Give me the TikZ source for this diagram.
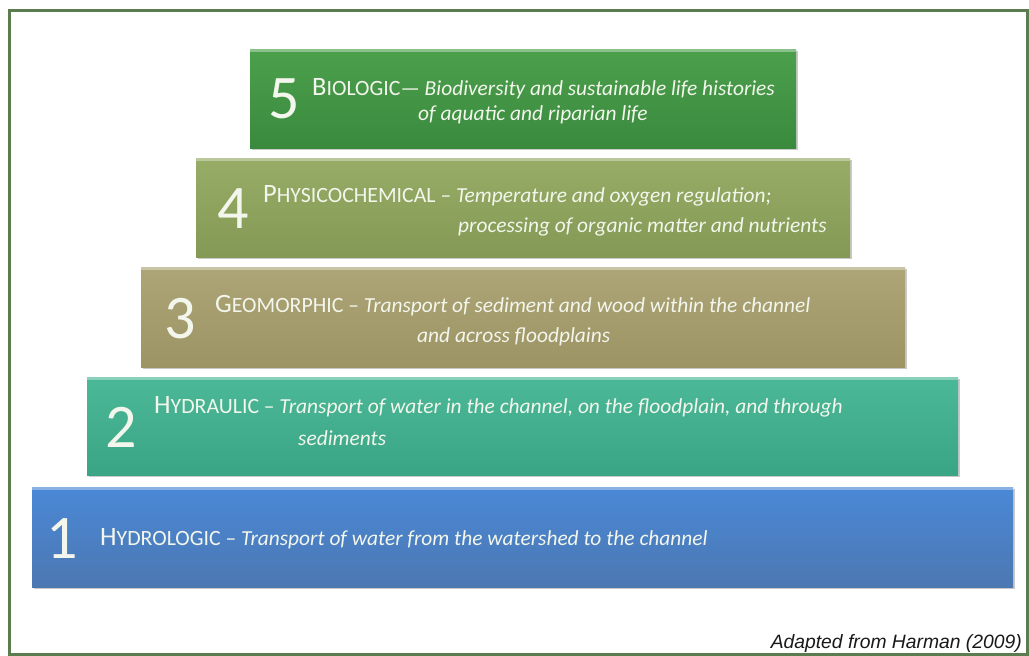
\documentclass[tikz,border=0pt]{standalone}
\usepackage{fontspec}
\setmainfont{Carlito}
\newfontfamily\attrfont{Liberation Sans}
\usetikzlibrary{shadows}
\definecolor{c5top}{HTML}{4CA04C}\definecolor{c5bot}{HTML}{3A8A3E}
\definecolor{c4top}{HTML}{97AC66}\definecolor{c4bot}{HTML}{849955}
\definecolor{c3top}{HTML}{ADA577}\definecolor{c3bot}{HTML}{9C9464}
\definecolor{c2top}{HTML}{4BB897}\definecolor{c2bot}{HTML}{3AA585}
\definecolor{c1top}{HTML}{4A88D6}\definecolor{c1bot}{HTML}{4C78B2}
\definecolor{frameg}{HTML}{5A7C4E}
\definecolor{txt}{HTML}{F3F6EC}
\newcommand\capsA[2]{{\fontsize{26.5}{30}\selectfont #1}{\fontsize{21.8}{26}\selectfont #2}}
\tikzset{
  stepbox/.style={anchor=north west, inner sep=0, draw=none,
    drop shadow={shadow xshift=1.5pt, shadow yshift=-2pt, opacity=0.35, fill=black!60}},
  digit/.style={anchor=base west, inner sep=0, text=txt, font=\fontsize{62}{62}\selectfont},
  txtline/.style={anchor=base west, inner sep=0, text=txt, font=\fontsize{21.4}{26}\selectfont},
  attr/.style={anchor=base east, inner sep=0, text=black!90, font=\attrfont\itshape\fontsize{19.3}{22}\selectfont},
  framebox/.style={draw=frameg, line width=2.5pt, inner sep=0, anchor=north west},
  hilite/.style={white, opacity=0.35, line width=3pt}
}
\begin{document}
\begin{tikzpicture}[x=1pt,y=-1pt]
\useasboundingbox[fill=white] (0,0) rectangle (1029,656);
\node[framebox, minimum width=1018pt, minimum height=644pt] (frame) at (8,9) {};

\node[stepbox, top color=c5top, bottom color=c5bot, minimum width=546pt, minimum height=99pt] (b5) at (250,49) {};
\node[stepbox, top color=c4top, bottom color=c4bot, minimum width=654pt, minimum height=99pt] (b4) at (196,158) {};
\node[stepbox, top color=c3top, bottom color=c3bot, minimum width=764pt, minimum height=100pt] (b3) at (141,267) {};
\node[stepbox, top color=c2top, bottom color=c2bot, minimum width=871pt, minimum height=98pt] (b2) at (87,377) {};
\node[stepbox, top color=c1top, bottom color=c1bot, minimum width=981pt, minimum height=100pt] (b1) at (32,487) {};

\foreach \b in {b1,b2,b3,b4,b5}{
  \draw[hilite] ([yshift=-1.5pt]\b.north west) -- ([yshift=-1.5pt]\b.north east);
}

\node[digit] (d5) at (268,118) {5};
\node[digit] (d4) at (217,228) {4};
\node[digit] (d3) at (164,338) {3};
\node[digit] (d2) at (105,447) {2};
\node[digit] (d1) at (46,558) {1};

\node[txtline] (t5a) at (312,95) {\capsA{B}{IOLOGIC}--- \textit{Biodiversity and sustainable life histories}};
\node[txtline] (t5b) at (418,120) {\textit{of aquatic and riparian life}};
\node[txtline] (t4a) at (263,202) {\capsA{P}{HYSICOCHEMICAL} -- \textit{Temperature and oxygen regulation;}};
\node[txtline] (t4b) at (458,232) {\textit{processing of organic matter and nutrients}};
\node[txtline] (t3a) at (215,312) {\capsA{G}{EOMORPHIC} -- \textit{Transport of sediment and wood within the channel}};
\node[txtline] (t3b) at (417,342) {\textit{and across floodplains}};
\node[txtline] (t2a) at (154,413) {\capsA{H}{YDRAULIC} -- \textit{Transport of water in the channel, on the floodplain, and through}};
\node[txtline] (t2b) at (298,445) {\textit{sediments}};
\node[txtline] (t1a) at (100,545) {\capsA{H}{YDROLOGIC} -- \textit{Transport of water from the watershed to the channel}};

\node[attr] (src) at (1022,648) {Adapted from Harman (2009)};
\end{tikzpicture}
\end{document}
